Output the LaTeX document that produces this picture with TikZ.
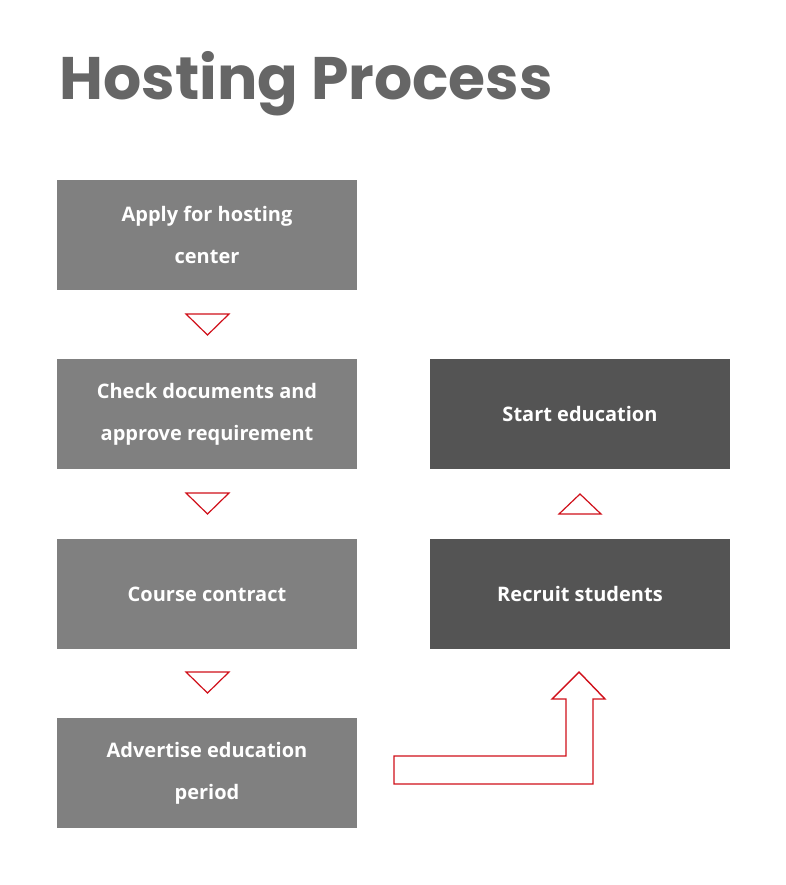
\documentclass[tikz,border=0pt]{standalone}
\usepackage{fontspec}
\setmainfont{Open Sans}
\newfontfamily\titlefont{Poppins}
\definecolor{boxgray}{HTML}{808080}
\definecolor{boxdark}{HTML}{545454}
\definecolor{titlegray}{HTML}{666666}
\definecolor{arrowred}{HTML}{D0101A}
\tikzset{
  stepbox/.style={rectangle, fill=boxgray, minimum width=300pt, minimum height=110pt, text=white, align=center, font=\fontsize{20}{42}\selectfont\bfseries, inner sep=0pt},
  darkbox/.style={stepbox, fill=boxdark},
  tri/.style={draw=arrowred, line width=1.2pt, fill=white}
}
\begin{document}
\begin{tikzpicture}[x=1pt,y=-1pt]
  \useasboundingbox[fill=white] (0,0) rectangle (785,885);
  \node (title) [anchor=west, text=titlegray, font=\titlefont\fontsize{60}{70}\selectfont\bfseries] at (56,84) {Hosting Process};

  \node (apply) [stepbox] at (207,235) {Apply for hosting\\center};
  \node (check) [stepbox] at (207,414) {Check documents and\\approve requirement};
  \node (course) [stepbox] at (207,594) {Course contract};
  \node (advert) [stepbox] at (207,773) {Advertise education\\period};
  \node (start) [darkbox] at (580,414) {Start education};
  \node (recruit) [darkbox] at (580,594) {Recruit students};

  % downward markers
  \foreach \y in {314,493,672}
    \draw [tri] (186,\y) -- (229,\y) -- (207.5,\y+21) -- cycle;
  % upward marker
  \draw [tri] (559,514) -- (601,514) -- (580,494) -- cycle;

  % bent arrow from advert to recruit
  \draw [tri, line width=1.4pt] (394,756) -- (566,756) -- (566,699) -- (552,699) -- (579,672)
    -- (605,699) -- (593,699) -- (593,784) -- (394,784) -- cycle;
\end{tikzpicture}
\end{document}
